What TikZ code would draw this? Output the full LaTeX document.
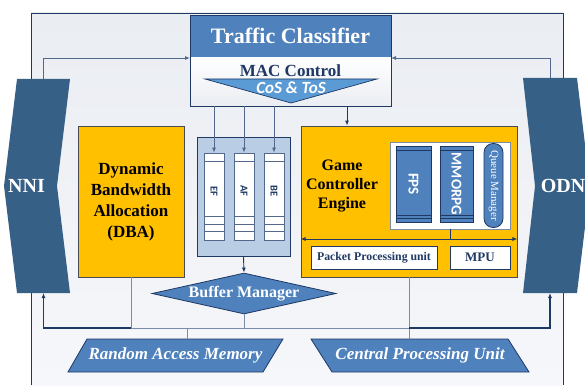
\documentclass[tikz,border=0pt]{standalone}
\usepackage{fontspec}
\setmainfont{Liberation Serif}
\newfontfamily\calfont{Carlito}
\usetikzlibrary{arrows.meta,calc,shapes.geometric}
\newcommand{\myfs}[2]{\fontsize{#1}{#2}\selectfont}
\definecolor{navy}{RGB}{31,56,100}
\definecolor{midln}{RGB}{84,104,140}
\definecolor{lightln}{RGB}{122,140,168}
\definecolor{steel}{RGB}{79,129,189}
\definecolor{cosblue}{RGB}{91,155,213}
\definecolor{darkblue}{RGB}{55,96,135}
\definecolor{gold}{RGB}{255,192,0}
\definecolor{qbg}{RGB}{185,205,229}
\definecolor{bgtop}{RGB}{234,237,242}
\definecolor{bgbot}{RGB}{246,247,250}
\definecolor{bordgray}{RGB}{70,75,85}
\begin{document}
\begin{tikzpicture}[x=1pt,y=-1pt,
  arr/.style={-{Latex[length=5pt,width=4pt]}},
  dbl/.style={{Latex[length=5pt,width=4pt]}-{Latex[length=5pt,width=4pt]}},
  nline/.style={draw=midln,line width=0.9pt},
  lline/.style={draw=lightln,line width=1pt},
  busln/.style={draw=navy,line width=1.4pt},
  anchorbox/.style={inner sep=0pt,outer sep=0pt},
  goldbox/.style={draw=bordgray,fill=gold,line width=0.9pt,inner sep=0pt},
  whitebox/.style={draw=navy,fill=white,line width=0.9pt,inner sep=0pt,text=navy,font=\bfseries\myfs{12}{14}},
  qcell/.style={draw=midln,fill=white,line width=0.7pt},
  gameblk/.style={draw=navy,fill=steel,line width=0.8pt,inner sep=0pt},
  vlabel/.style={rotate=-90,text=white,inner sep=0pt},
  pgram/.style={fill=steel,draw=navy,line width=0.8pt},
  pgtext/.style={text=white,font=\bfseries\itshape\myfs{17}{20}}
]
\clip (0,0) rectangle (585,385);
% background frame
\shade[top color=bgtop,bottom color=bgbot] (31,13) rectangle (563,385);
\draw[navy,line width=0.8pt] (31,385) -- (31,13) -- (563,13) -- (563,385);

% NNI and ODN
\fill[darkblue] (17,79) -- (70,79) -- (57,186) -- (70,293) -- (17,293) -- (4,186) -- cycle;
\node[anchorbox,minimum width=53pt,minimum height=214pt] (nni) at (43.5,186) {};
\node[text=white,font=\bfseries\myfs{20}{24}] (nnilbl) at (26.5,186) {NNI};
\fill[darkblue] (523,78) -- (577,78) -- (590,186) -- (577,293) -- (523,293) -- (535,186) -- cycle;
\node[anchorbox,minimum width=54pt,minimum height=215pt] (odn) at (550,185.5) {};
\node[text=white,font=\bfseries\myfs{20}{24}] (odnlbl) at (563,186) {ODN};

% Traffic classifier
\shade[top color=white,bottom color=bgtop] (190,57) rectangle (391,106);
\fill[steel] (190,15) rectangle (391,57);
\draw[navy,line width=0.9pt] (190,15) rectangle (391,106);
\node[anchorbox,minimum width=201pt,minimum height=91pt] (tc) at (290.5,60.5) {};
\node[text=white,font=\bfseries\myfs{22}{26}] (tctitle) at (290.5,36) {Traffic Classifier};
\node[text=navy,font=\bfseries\myfs{17}{20}] (mac) at (290.5,70.5) {MAC Control};
\filldraw[fill=cosblue,draw=navy,line width=0.7pt] (205,79) -- (377,79) -- (291,103) -- cycle;
\node[text=white,font=\calfont\bfseries\itshape\myfs{17}{20}] (cos) at (291,88) {CoS \& ToS};

% DBA
\node[goldbox,minimum width=106pt,minimum height=151pt,align=center,font=\bfseries\myfs{17}{21}] (dba) at (131,201.5) {Dynamic\\Bandwidth\\Allocation\\(DBA)};

% queue container
\node[draw=navy,fill=qbg,line width=0.9pt,minimum width=93pt,minimum height=119pt,inner sep=0pt] (qc) at (243.5,196.5) {};
\foreach \n/\x/\t in {ef/204/EF,af/234/AF,be/264/BE}{
  \node[qcell,minimum width=20pt,minimum height=87pt,inner sep=0pt] (\n) at (\x+10,196.5) {};
  \draw[qcell] (\x,153) rectangle (\x+20,161);
  \draw[qcell] (\x,216) rectangle (\x+20,224);
  \draw[qcell] (\x,224) rectangle (\x+20,231.5);
  \draw[qcell] (\x,231.5) rectangle (\x+20,240);
  \node[rotate=-90,text=navy,font=\calfont\bfseries\myfs{10.5}{12}] (\n lbl) at (\x+10,191) {\t};
}

% Game controller engine
\node[goldbox,minimum width=216pt,minimum height=151pt] (gce) at (409,201.5) {};
\node[align=center,font=\bfseries\myfs{16}{19}] (gcelbl) at (342,186) {Game\\Controller\\Engine};
\node[draw=lightln,fill=white,line width=0.9pt,minimum width=120pt,minimum height=87pt,inner sep=0pt] (inner) at (450,185.5) {};
\node[gameblk,minimum width=35pt,minimum height=76pt] (fps) at (413.5,184) {};
\node[gameblk,minimum width=33pt,minimum height=76pt] (mmo) at (456.5,184) {};
\foreach \a/\b in {396/431,440/473}{
  \draw[navy,line width=0.7pt] (\a,150) -- (\b,150);
  \draw[navy,line width=0.7pt] (\a,215) -- (\b,215);
  \draw[navy,line width=0.7pt] (\a,218.5) -- (\b,218.5);
}
\node[vlabel,font=\calfont\bfseries\myfs{15}{17}] (fpslbl) at (fps.center) {FPS};
\node[vlabel,font=\calfont\bfseries\myfs{15}{17}] (mmolbl) at (mmo.center) {MMORPG};
\node[gameblk,rounded corners=9pt,minimum width=19pt,minimum height=84pt] (qm) at (493.5,185.5) {};
\node[vlabel,font=\myfs{11}{13}] (qmlbl) at (qm.center) {Queue Manager};
\path (gce.west) ++(0,37.5) coordinate (arl);
\draw[draw=navy,line width=0.9pt,dbl] (arl) -- (arl -| gce.east);
\draw[draw=navy,line width=0.9pt] (inner.south) -- (inner.south |- arl);
\node[whitebox,minimum width=126pt,minimum height=23pt,font=\bfseries\myfs{11.8}{14}] (ppu) at (374,257.5) {Packet Processing unit};
\node[whitebox,minimum width=60pt,minimum height=23pt,font=\bfseries\myfs{13}{15}] (mpu) at (480,257.5) {MPU};

% Buffer manager
\node[diamond,draw=navy,fill=steel,line width=0.8pt,minimum width=184pt,minimum height=41pt,aspect=4.5,inner sep=0pt,text=white,font=\bfseries\myfs{16}{19}] (buf) at (244,293.5) {Buffer Manager};

% RAM and CPU
\filldraw[pgram] (87,339) -- (283,339) -- (263,372) -- (68,372) -- cycle;
\node[anchorbox,minimum width=196pt,minimum height=33pt,pgtext] (ram) at (175.5,355.5) {Random Access Memory};
\filldraw[pgram] (311,339) -- (508,339) -- (529,372) -- (332,372) -- cycle;
\node[anchorbox,minimum width=197pt,minimum height=33pt,pgtext] (cpu) at (420,355.5) {Central Processing Unit};

% connectors at top
\draw[nline,arr] (nni.north) |- ([yshift=2.5pt]tc.west);
\draw[nline,arr] (odn.north) |- ([yshift=2.5pt]tc.east);
\foreach \n in {ef,af,be}{
  \draw[nline,arr] (\n.north |- tc.south) -- (\n.north);
}
\coordinate (tcg) at ([xshift=-44pt]tc.south east);
\draw[draw=navy,line width=0.9pt,arr] (tcg) -- (tcg |- gce.north);
\draw[draw=navy,line width=0.9pt,arr] (qc.south) -- (buf.north);

% bottom bus
\coordinate (busy) at (0,328);
\draw[lline] (dba.south) -- (dba.south |- busy);
\draw[lline] (dba.south |- busy) -- (gce.south |- busy);
\draw[lline] (buf.south) -- (buf.south |- busy);
\draw[lline] (gce.south) -- (gce.south |- cpu.north);
\coordinate (ramj) at ($(dba.south |- busy)!0.5!(buf.south |- busy)$);
\draw[lline] (ramj) -- (ramj |- ram.north);
\draw[busln,arr] (dba.south |- busy) -| (nni.south);
\draw[busln,arr] (gce.south |- busy) -| (odn.south);
\end{tikzpicture}
\end{document}
